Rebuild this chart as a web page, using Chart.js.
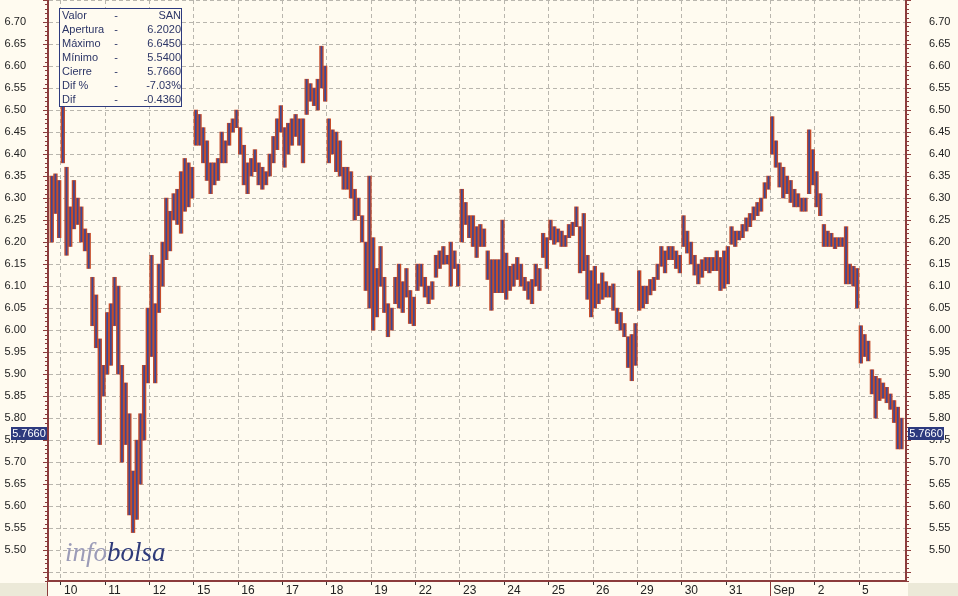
<!DOCTYPE html>
<html>
<head>
<meta charset="UTF-8">
<title>SAN</title>
<script src="https://cdn.jsdelivr.net/npm/chart.js@4.4.0/dist/chart.umd.min.js"></script>
<style>
  html, body {
    margin: 0;
    padding: 0;
    background-color: #fffbf0;
  }
  #chart_field {
    width: 958px;
    height: 596px;
    position: relative;
  }
</style>
</head>
<body>
<div id="chart_field">
  <canvas id="mychart"></canvas>
</div>
<script>

// day labels on the time axis
const dayLabels = ['10', '11', '12', '15', '16', '17', '18', '19', '22', '23',
  '24', '25', '26', '29', '30', '31', 'Sep', '2', '5'];

// price axis ticks
const yTickValues = [5.45, 5.50, 5.55, 5.60, 5.65, 5.70, 5.75, 5.80, 5.85, 5.90,
  5.95, 6.00, 6.05, 6.10, 6.15, 6.20, 6.25, 6.30, 6.35, 6.40, 6.45, 6.50, 6.55,
  6.60, 6.65, 6.70, 6.75];

// intraday [low, high] per slot (12 slots a session)
const d09 = [[6.20, 6.35], [6.265, 6.355], [6.21, 6.34]];
const d10 = [[6.38, 6.51], [6.17, 6.37], [6.19, 6.28], [6.23, 6.34], [6.24, 6.30], [6.20, 6.28],
  [6.18, 6.23], [6.14, 6.22], [6.01, 6.12], [5.96, 6.08], [5.74, 5.98], [5.85, 5.92]];
const d11 = [[5.90, 6.04], [5.92, 6.06], [6.01, 6.12], [5.90, 6.10], [5.70, 5.92], [5.74, 5.88],
  [5.58, 5.81], [5.54, 5.68], [5.57, 5.75], [5.65, 5.81], [5.75, 5.92], [5.88, 6.05]];
const d12 = [[5.94, 6.17], [5.88, 6.06], [6.04, 6.15], [6.10, 6.20], [6.16, 6.30], [6.18, 6.27],
  [6.25, 6.31], [6.24, 6.32], [6.22, 6.36], [6.27, 6.39], [6.28, 6.38], [6.30, 6.37]];
const d15 = [[6.42, 6.50], [6.42, 6.49], [6.38, 6.46], [6.34, 6.43], [6.31, 6.38], [6.33, 6.38],
  [6.34, 6.39], [6.38, 6.45], [6.38, 6.43], [6.42, 6.47], [6.45, 6.48], [6.46, 6.50]];
const d16 = [[6.40, 6.46], [6.33, 6.42], [6.31, 6.38], [6.35, 6.39], [6.36, 6.41], [6.33, 6.38],
  [6.32, 6.37], [6.33, 6.36], [6.35, 6.40], [6.38, 6.44], [6.41, 6.48], [6.45, 6.51]];
const d17 = [[6.37, 6.46], [6.40, 6.47], [6.42, 6.48], [6.44, 6.49], [6.42, 6.48], [6.38, 6.48],
  [6.49, 6.57], [6.52, 6.56], [6.51, 6.55], [6.50, 6.57], [6.55, 6.645], [6.52, 6.60]];
const d18 = [[6.38, 6.48], [6.40, 6.455], [6.36, 6.45], [6.35, 6.43], [6.32, 6.37], [6.32, 6.37],
  [6.30, 6.36], [6.25, 6.32], [6.26, 6.30], [6.20, 6.26], [6.09, 6.20], [6.05, 6.35]];
const d19 = [[6.00, 6.21], [6.03, 6.14], [6.10, 6.19], [6.04, 6.12], [5.985, 6.06], [6.00, 6.05],
  [6.06, 6.12], [6.05, 6.15], [6.04, 6.11], [6.075, 6.14], [6.015, 6.09], [6.01, 6.075]];
const d22 = [[6.09, 6.15], [6.10, 6.15], [6.075, 6.12], [6.06, 6.10], [6.07, 6.11], [6.12, 6.17],
  [6.14, 6.18], [6.15, 6.19], [6.15, 6.17], [6.10, 6.20], [6.14, 6.18], [6.10, 6.15]];
const d23 = [[6.20, 6.32], [6.24, 6.29], [6.21, 6.26], [6.19, 6.26], [6.165, 6.235], [6.19, 6.24],
  [6.19, 6.23], [6.115, 6.18], [6.045, 6.16], [6.085, 6.16], [6.085, 6.16], [6.085, 6.25]];
const d24 = [[6.07, 6.175], [6.09, 6.145], [6.10, 6.15], [6.115, 6.165], [6.10, 6.15], [6.09, 6.12],
  [6.07, 6.11], [6.06, 6.115], [6.10, 6.15], [6.09, 6.14], [6.165, 6.22], [6.14, 6.21]];
const d25 = [[6.205, 6.25], [6.195, 6.235], [6.20, 6.23], [6.19, 6.225], [6.19, 6.215], [6.21, 6.24],
  [6.215, 6.245], [6.235, 6.28], [6.13, 6.235], [6.135, 6.265], [6.07, 6.17], [6.03, 6.135]];
const d26 = [[6.05, 6.145], [6.06, 6.105], [6.07, 6.13], [6.075, 6.11], [6.075, 6.10], [6.045, 6.105],
  [6.015, 6.05], [6.00, 6.04], [5.985, 6.015], [5.915, 5.985], [5.885, 5.99], [5.92, 6.015]];
const d29 = [[6.045, 6.135], [6.05, 6.10], [6.06, 6.10], [6.08, 6.115], [6.09, 6.12], [6.115, 6.15],
  [6.145, 6.19], [6.13, 6.18], [6.16, 6.19], [6.16, 6.19], [6.14, 6.18], [6.13, 6.17]];
const d30 = [[6.19, 6.26], [6.175, 6.225], [6.15, 6.20], [6.125, 6.17], [6.105, 6.15], [6.12, 6.16],
  [6.135, 6.165], [6.13, 6.165], [6.135, 6.165], [6.135, 6.18], [6.09, 6.165], [6.095, 6.18]];
const d31 = [[6.105, 6.19], [6.195, 6.235], [6.19, 6.225], [6.205, 6.225], [6.21, 6.24], [6.225, 6.255],
  [6.235, 6.265], [6.25, 6.28], [6.26, 6.29], [6.27, 6.30], [6.30, 6.335], [6.32, 6.35]];
const d01 = [[6.40, 6.485], [6.37, 6.43], [6.325, 6.38], [6.30, 6.37], [6.31, 6.35], [6.29, 6.34],
  [6.28, 6.32], [6.28, 6.31], [6.27, 6.30], [6.27, 6.30], [6.31, 6.455], [6.33, 6.41]];
const d02 = [[6.28, 6.36], [6.26, 6.31], [6.19, 6.24], [6.19, 6.225], [6.19, 6.22], [6.185, 6.21],
  [6.19, 6.21], [6.19, 6.21], [6.105, 6.235], [6.105, 6.15], [6.10, 6.145], [6.05, 6.14]];
const d05 = [[5.925, 6.01], [5.94, 5.99], [5.93, 5.975], [5.855, 5.91], [5.80, 5.895], [5.84, 5.89],
  [5.845, 5.88], [5.835, 5.87], [5.82, 5.855], [5.79, 5.84], [5.73, 5.825], [5.73, 5.80]];

const sessions = [d09, d10, d11, d12, d15, d16, d17, d18, d19, d22, d23,
  d24, d25, d26, d29, d30, d31, d01, d02, d05];
const SLOTS = 12;

const infoLabels = ['Valor', 'Apertura', 'Máximo', 'Mínimo', 'Cierre', 'Dif %', 'Dif'];
const infoValues = ['SAN', '6.2020', '6.6450', '5.5400', '5.7660', '-7.03%', '-0.4360'];
const lastClose = 5.766;

const BG = '#fffbf0';
const AXIS_COLOR = '#8c3c3c';
const GRID_COLOR = '#b9b6ae';
const NAVY = '#2d3a7e';
const RED = '#c64c2a';
const BLUE = '#3b4896';
const FONT = '"Liberation Sans", Arial, sans-serif';

// build points: day index + slot position (first session is the tail of the 9th)
let points = [];
sessions.forEach(function (sess, i) {
  const day = i - 1;
  const first = (i === 0) ? SLOTS - sess.length : 0;
  sess.forEach(function (p, k) {
    points.push({ x: day + (first + k + 0.5) / SLOTS, y: [p[0], p[1]] });
  });
});

// fixed axis boxes, no extra label padding round the plot
function fixBox(w, h) {
  return function (scale) {
    if (w !== null) scale.width = w;
    if (h !== null) scale.height = h;
    scale.paddingTop = 0;
    scale.paddingBottom = 0;
    scale.paddingLeft = 0;
    scale.paddingRight = 0;
  };
}

const decorPlugin = {
  id: 'decor',
  beforeDraw(chart) {
    const ctx = chart.ctx;
    ctx.save();
    ctx.fillStyle = BG;
    ctx.fillRect(0, 0, chart.width, chart.height);
    ctx.fillStyle = '#ece9d8';
    ctx.fillRect(0, 583, 47, 13);
    ctx.fillRect(908, 583, 50, 13);
    ctx.restore();
  },
  afterDraw(chart) {
    const ctx = chart.ctx;
    const area = chart.chartArea;
    const y = chart.scales.y;
    const x = chart.scales.x;
    ctx.save();

    // minor price ticks
    ctx.strokeStyle = AXIS_COLOR;
    ctx.lineWidth = 1;
    ctx.beginPath();
    for (let v = 543; v <= 675; v++) {
      if (v % 5 === 0) continue;
      const py = Math.round(y.getPixelForValue(v / 100)) + 0.5;
      ctx.moveTo(area.left - 3, py);
      ctx.lineTo(area.left, py);
      ctx.moveTo(area.right, py);
      ctx.lineTo(area.right + 3, py);
    }
    // left axis runs down to the bottom, Sep tick is long
    ctx.moveTo(area.left - 0.5, area.bottom);
    ctx.lineTo(area.left - 0.5, chart.height);
    const sepX = Math.round(x.getPixelForValue(dayLabels.indexOf('Sep'))) + 0.5;
    ctx.moveTo(sepX, area.bottom);
    ctx.lineTo(sepX, chart.height);
    ctx.stroke();

    // last price boxes
    const cy = Math.round(y.getPixelForValue(lastClose));
    ctx.font = '11px ' + FONT;
    ctx.textAlign = 'center';
    ctx.textBaseline = 'middle';
    ctx.fillStyle = NAVY;
    ctx.fillRect(11, cy - 6, 36, 13);
    ctx.fillRect(908, cy - 6, 36, 13);
    ctx.fillStyle = '#ffffff';
    ctx.fillText(lastClose.toFixed(4), 29, cy + 1);
    ctx.fillText(lastClose.toFixed(4), 926, cy + 1);

    // info box
    ctx.fillStyle = BG;
    ctx.fillRect(59.5, 8.5, 122, 98);
    ctx.strokeStyle = NAVY;
    ctx.strokeRect(59.5, 8.5, 122, 98);
    ctx.fillStyle = '#2c3566';
    infoLabels.forEach(function (lab, i) {
      const ty = 16 + i * 14;
      ctx.textAlign = 'left';
      ctx.fillText(lab, 62, ty);
      ctx.textAlign = 'center';
      ctx.fillText('-', 116, ty);
      ctx.textAlign = 'right';
      ctx.fillText(infoValues[i], 181, ty);
    });

    // logo
    ctx.font = 'italic 27px "Liberation Serif", "DejaVu Serif", serif';
    ctx.textAlign = 'left';
    ctx.textBaseline = 'alphabetic';
    ctx.fillStyle = '#9c9cb8';
    ctx.fillText('info', 65, 561);
    const w = ctx.measureText('info').width;
    ctx.fillStyle = '#2f3b7a';
    ctx.fillText('bolsa', 65 + w, 561);
    ctx.restore();
  }
};

const yTicksCommon = {
  font: { size: 11, family: FONT },
  color: '#222',
  autoSkip: false,
  callback: function (value, index) {
    if (index === 0 || index === yTickValues.length - 1) return '';
    return yTickValues[index].toFixed(2);
  }
};

function setYTicks(scale) {
  scale.ticks = yTickValues.map(function (v) { return { value: v }; });
}

// first dataset is painted last (on top)
let ctx = document.getElementById('mychart');
var myChart = new Chart(ctx, {
  type: 'bar',
  data: {
    datasets: [{
      label: 'trades',
      data: points,
      backgroundColor: BLUE,
      categoryPercentage: 1,
      barPercentage: 0.45,
      grouped: false,
    }, {
      label: 'range',
      data: points,
      backgroundColor: RED,
      categoryPercentage: 1,
      barPercentage: 1,
      grouped: false,
    }],
  },
  options: {
    responsive: true,
    maintainAspectRatio: false,
    animation: false,
    devicePixelRatio: 1,
    layout: { padding: 0 },
    plugins: {
      legend: { display: false },
      tooltip: { enabled: false },
    },
    scales: {
      x: {
        type: 'linear',
        position: 'bottom',
        min: -0.293,
        max: 19.06,
        offset: false,
        afterFit: fixBox(null, 15),
        afterBuildTicks: function (scale) {
          scale.ticks = dayLabels.map(function (l, i) { return { value: i }; });
        },
        grid: {
          offset: false,
          color: GRID_COLOR,
          lineWidth: 1,
          tickLength: 4,
          tickColor: '#333',
          tickBorderDash: [],
        },
        border: { color: AXIS_COLOR, width: 2, dash: [4, 3] },
        ticks: {
          font: { size: 12, family: FONT },
          color: '#222',
          align: 'start',
          labelOffset: 3,
          padding: -2,
          maxRotation: 0,
          autoSkip: false,
          callback: function (value, index) { return dayLabels[index]; }
        }
      },
      y: {
        type: 'linear',
        position: 'left',
        min: 5.43,
        max: 6.75,
        beginAtZero: false,
        afterFit: fixBox(48, null),
        afterBuildTicks: setYTicks,
        grid: {
          color: GRID_COLOR,
          lineWidth: 1,
          tickLength: 5,
          tickColor: AXIS_COLOR,
          tickBorderDash: [],
        },
        border: { color: AXIS_COLOR, width: 2, dash: [4, 3] },
        ticks: Object.assign({ padding: 17 }, yTicksCommon),
      },
      y2: {
        type: 'linear',
        position: 'right',
        min: 5.43,
        max: 6.75,
        beginAtZero: false,
        afterFit: fixBox(52, null),
        afterBuildTicks: setYTicks,
        grid: {
          drawOnChartArea: false,
          tickLength: 5,
          tickColor: AXIS_COLOR,
          tickBorderDash: [],
        },
        border: { color: AXIS_COLOR, width: 2 },
        ticks: Object.assign({ padding: 18 }, yTicksCommon),
      }
    }
  },
  plugins: [decorPlugin]
});
</script>
</body>
</html>
